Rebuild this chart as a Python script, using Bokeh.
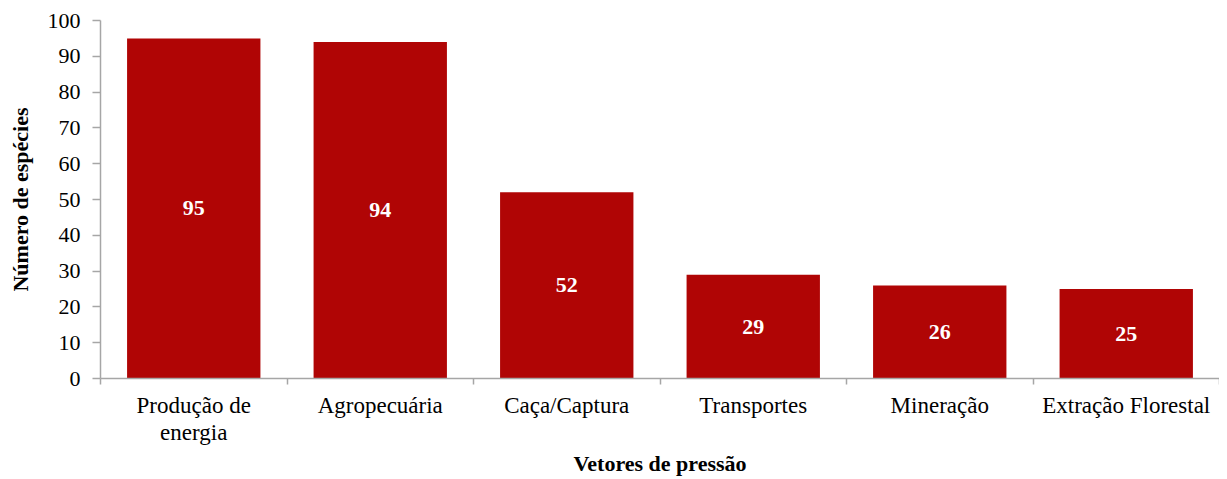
from bokeh.plotting import figure
from bokeh.models import ColumnDataSource, Range1d, LinearAxis, FixedTicker
from bokeh.core.properties import value
from bokeh.embed import file_html
from bokeh.resources import INLINE

categories = ["Produção de\nenergia", "Agropecuária", "Caça/Captura",
              "Transportes", "Mineração", "Extração Florestal"]
counts = [95, 94, 52, 29, 26, 25]
y_ticks = list(range(0, 101, 10))

FONT = "Liberation Serif"
BAR = "#B00505"
AXIS = "#A6A6A6"

n = len(categories)
centers = [i + 0.5 for i in range(n)]
bounds = list(range(n + 1))

source = ColumnDataSource(dict(
    x=centers,
    count=counts,
    mid=[c / 2 for c in counts],
    label=[str(c) for c in counts],
))

p = figure(width=1219, height=479, x_range=Range1d(0, n),
           y_range=Range1d(0, 100), output_backend="svg", toolbar_location=None,
           x_axis_location=None, min_border_left=100, min_border_right=0,
           min_border_top=20, min_border_bottom=101)
p.outline_line_color = None
p.grid.visible = False
p.background_fill_color = "white"
p.border_fill_color = "white"

p.vbar(x="x", top="count", width=0.715, source=source, fill_color=BAR,
       line_color=None)
p.text(x="x", y="mid", text="label", source=source, text_color="white",
       text_font=value(FONT), text_font_style="bold", text_font_size="22px",
       text_align="center", text_baseline="middle")

# y axis
ya = p.yaxis[0]
ya.ticker = FixedTicker(ticks=y_ticks)
ya.axis_line_color = AXIS
ya.axis_line_width = 1.5
ya.major_tick_line_color = AXIS
ya.major_tick_line_width = 1.5
ya.major_tick_out = 8
ya.major_tick_in = 0
ya.minor_tick_line_color = None
ya.major_label_text_font = FONT
ya.major_label_text_font_size = "22px"
ya.major_label_text_color = "black"
ya.major_label_standoff = 12
ya.axis_label = "Número de espécies"
ya.axis_label_text_font = FONT
ya.axis_label_text_font_size = "22px"
ya.axis_label_text_font_style = "bold"
ya.axis_label_text_color = "black"
ya.axis_label_standoff = 12

# x boundary-tick axis
xb = LinearAxis(ticker=FixedTicker(ticks=bounds),
                major_label_overrides={b: "" for b in bounds})
xb.axis_line_color = AXIS
xb.axis_line_width = 1.5
xb.major_tick_line_color = AXIS
xb.major_tick_line_width = 1.5
xb.major_tick_out = 6
xb.major_tick_in = 0
xb.minor_tick_line_color = None
xb.major_label_text_font_size = "0px"
xb.major_label_standoff = 0
p.add_layout(xb, "below")

# category label axis
xc = LinearAxis(ticker=FixedTicker(ticks=centers),
                major_label_overrides={c: lab for c, lab in zip(centers, categories)})
xc.axis_line_color = None
xc.major_tick_line_color = None
xc.minor_tick_line_color = None
xc.major_label_text_font = FONT
xc.major_label_text_font_size = "23px"
xc.major_label_text_line_height = 1.1
xc.major_label_text_color = "black"
xc.major_label_standoff = 2
xc.axis_label = "Vetores de pressão"
xc.axis_label_text_font = FONT
xc.axis_label_text_font_size = "22px"
xc.axis_label_text_font_style = "bold"
xc.axis_label_text_color = "black"
xc.axis_label_standoff = 3
p.add_layout(xc, "below")

open("out.html", "w").write(file_html(p, INLINE))
